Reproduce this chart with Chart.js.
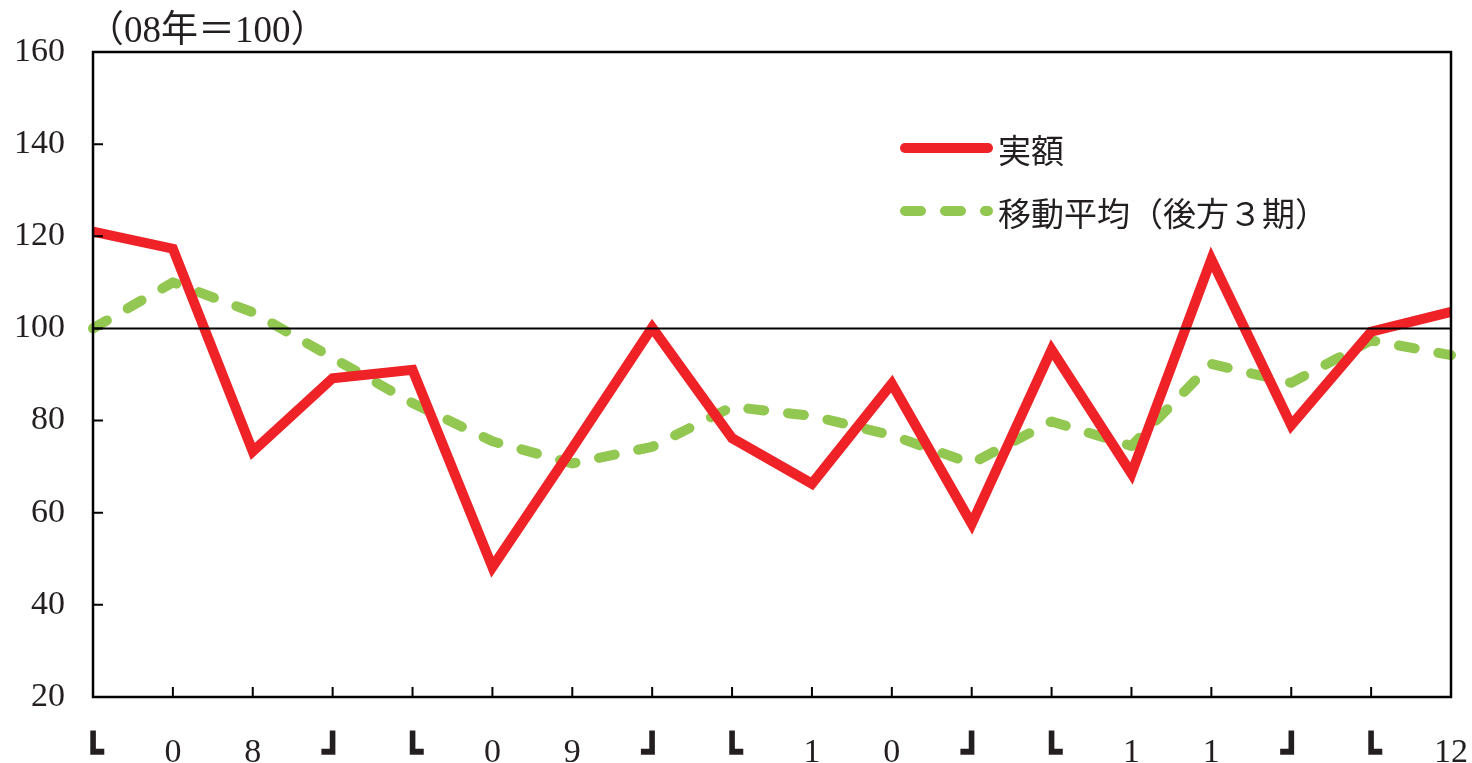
<!DOCTYPE html>
<html lang="ja">
<head>
<meta charset="utf-8">
<title>実額と移動平均</title>
<script src="https://cdn.jsdelivr.net/npm/chart.js@4/dist/chart.umd.min.js"></script>
<style>
  html, body { margin: 0; padding: 0; background: #fff; }
  #caja { width: 1472px; height: 763px; }
</style>
</head>
<body>
<div id="caja"><canvas id="grafica"></canvas></div>
<script>
// Trimestres 2008-2012 (corchetes marcan cada año)
const etiquetas = ["┗", "0", "8", "┛", "┗", "0", "9", "┛", "┗", "1", "0", "┛", "┗", "1", "1", "┛", "┗", "12"];
const jitsugaku = [121, 117.3, 73.3, 89.2, 91, 48.2, 74, 100.2, 76.2, 66.3, 88, 57.6, 95.4, 68.5, 115, 79, 99.3, 103.6];
const idoHeikin = [100, 110, 103.5, 93.6, 83.8, 75.5, 70.7, 74.3, 83, 81, 76.8, 70.7, 79.8, 74.5, 92.3, 88.2, 97.4, 94.2];
const nombres = ["実額", "移動平均（後方３期）"];
const titulo = "（08年＝100）";
const yMin = 20, yMax = 160, yPaso = 20, base = 100;

const rojo = "#ee2227";
const verde = "#92c851";
const texto = "#231f20";
const serif = "'Liberation Serif', 'Noto Sans CJK JP', serif";

const corchete = (l) => l === "┗" || l === "┛";

// Marco, marcas hacia dentro, línea de 100, título y leyenda
const marco = {
    id: "marco",
    afterDatasetsDraw(chart) {
        const { ctx, chartArea: a, scales: { x, y } } = chart;
        ctx.save();
        ctx.strokeStyle = "#000";
        ctx.lineWidth = 2;
        const yb = y.getPixelForValue(base);
        ctx.beginPath();
        ctx.moveTo(a.left, yb);
        ctx.lineTo(a.right, yb);
        ctx.stroke();

        ctx.lineWidth = 2.5;
        ctx.strokeRect(a.left, a.top, a.right - a.left, a.bottom - a.top);
        ctx.lineWidth = 2;
        ctx.beginPath();
        for (let v = yMin + yPaso; v < yMax; v += yPaso) {
            const py = y.getPixelForValue(v);
            ctx.moveTo(a.left, py);
            ctx.lineTo(a.left + 10, py);
        }
        for (let i = 1; i < etiquetas.length - 1; i++) {
            const px = x.getPixelForValue(i);
            ctx.moveTo(px, a.bottom);
            ctx.lineTo(px, a.bottom - 10);
        }
        ctx.stroke();

        ctx.fillStyle = texto;
        ctx.font = "37px " + serif;
        ctx.textBaseline = "middle";
        ctx.fillText(titulo, a.left - 6, 32);

        // leyenda
        const lx = 905, lx2 = 988;
        const filas = [148, 211];
        chart.data.datasets.forEach((ds, i) => {
            ctx.strokeStyle = ds.borderColor;
            ctx.lineWidth = ds.borderWidth;
            ctx.lineCap = "round";
            ctx.setLineDash(ds.borderDash || []);
            ctx.beginPath();
            ctx.moveTo(lx, filas[i]);
            ctx.lineTo(lx2, filas[i]);
            ctx.stroke();
            ctx.setLineDash([]);
            ctx.font = "33px 'Noto Sans CJK JP'";
            ctx.fillText(nombres[i], 998, filas[i] + 2);
        });
        ctx.restore();
    }
};

new Chart(document.querySelector("#grafica"), {
    type: "line",
    data: {
        labels: etiquetas,
        datasets: [
            {
                label: nombres[0],
                data: jitsugaku,
                borderColor: rojo,
                backgroundColor: rojo,
                borderWidth: 10,
                borderJoinStyle: "miter",
                pointRadius: 0,
                tension: 0
            },
            {
                label: nombres[1],
                data: idoHeikin,
                borderColor: verde,
                backgroundColor: verde,
                borderWidth: 10,
                borderDash: [16, 24],
                borderCapStyle: "round",
                borderJoinStyle: "round",
                pointRadius: 0,
                tension: 0
            }
        ]
    },
    options: {
        responsive: true,
        maintainAspectRatio: false,
        animation: false,
        layout: { padding: { top: 52, right: 21, left: 0, bottom: 0 } },
        plugins: {
            legend: { display: false },
            tooltip: { enabled: false }
        },
        scales: {
            x: {
                offset: false,
                grid: { display: false, drawTicks: false },
                border: { display: false },
                ticks: {
                    autoSkip: false,
                    maxRotation: 0,
                    padding: 36,
                    color: texto,
                    font: (c) => corchete(etiquetas[c.index])
                        ? { family: "'DejaVu Sans'", size: 36, weight: "bold" }
                        : { family: serif, size: 34 }
                },
                afterFit: (s) => { s.height = 66; s.paddingLeft = 0; s.paddingRight = 0; }
            },
            y: {
                min: yMin,
                max: yMax,
                grid: { display: false, drawTicks: false },
                border: { display: false },
                ticks: {
                    stepSize: yPaso,
                    padding: 28,
                    color: texto,
                    font: { family: serif, size: 34 }
                },
                afterFit: (s) => { s.width = 93; s.paddingTop = 0; s.paddingBottom = 0; }
            }
        }
    },
    plugins: [marco]
});
</script>
</body>
</html>
